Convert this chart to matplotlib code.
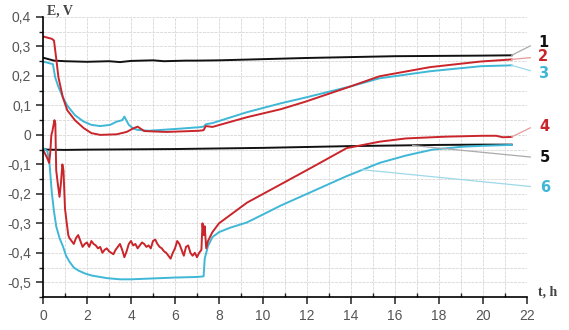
import matplotlib
matplotlib.use("Agg")
import matplotlib.pyplot as plt
from matplotlib.ticker import MultipleLocator

# ---- data ----
t1 = [0, 0.2, 0.5, 1, 1.5, 2, 2.5, 3, 3.5, 4, 4.5, 5, 5.5, 6, 6.5, 7, 8, 9, 10, 12, 14, 16, 18, 20, 21.3]
e1 = [0.262, 0.258, 0.252, 0.250, 0.249, 0.248, 0.249, 0.250, 0.247, 0.251, 0.252, 0.253, 0.250, 0.251, 0.252, 0.252,
      0.253, 0.255, 0.257, 0.261, 0.264, 0.267, 0.268, 0.269, 0.270]

t2 = [0, 0.4, 0.5, 0.6, 0.7, 0.9, 1.1, 1.45, 1.85, 2.2, 2.6, 3.35, 3.8, 4.1, 4.3, 4.6, 5.6, 7.1, 7.3, 7.4,
      7.7, 9.27, 10.8, 11.9, 14, 15.3, 17.6, 19.9, 21.3]
e2 = [0.334, 0.326, 0.320, 0.260, 0.196, 0.128, 0.084, 0.050, 0.023, 0.006, 0.000, 0.002, 0.010, 0.022, 0.028,
      0.013, 0.010, 0.014, 0.016, 0.030, 0.027, 0.060, 0.087, 0.112, 0.165, 0.199, 0.230, 0.249, 0.256]

t3 = [0, 0.3, 0.45, 0.55, 0.7, 0.9, 1.1, 1.45, 1.85, 2.2, 2.6, 3.05, 3.35, 3.6, 3.7, 3.9, 4.1, 4.3, 4.8, 6.0, 7.1,
      7.3, 7.4, 7.7, 9.27, 10.8, 12, 14, 15.3, 17.6, 19.9, 21.3]
e3 = [0.249, 0.243, 0.240, 0.196, 0.163, 0.128, 0.100, 0.067, 0.045, 0.034, 0.030, 0.034, 0.045, 0.050, 0.062,
      0.034, 0.022, 0.017, 0.014, 0.020, 0.026, 0.028, 0.036, 0.040, 0.077, 0.107, 0.128, 0.165, 0.192, 0.216,
      0.233, 0.236]

t4 = [0, 0.1, 0.2, 0.28, 0.33, 0.38, 0.42, 0.47, 0.52, 0.56, 0.6, 0.68, 0.75, 0.82, 0.88, 0.93, 1.0, 1.08, 1.15,
      1.2, 1.3, 1.4, 1.5, 1.6, 1.7, 1.8, 1.9, 2.0, 2.1, 2.2, 2.3, 2.4, 2.5, 2.6, 2.7, 2.8, 2.9, 3.0, 3.1, 3.2,
      3.3, 3.4, 3.5, 3.6, 3.7, 3.8, 3.9, 4.0, 4.1, 4.2, 4.3, 4.4, 4.5, 4.6, 4.7, 4.8, 4.9, 5.0, 5.1, 5.2, 5.3,
      5.4, 5.5, 5.6, 5.7, 5.8, 5.9, 6.0, 6.1, 6.2, 6.3, 6.4, 6.5, 6.6, 6.7, 6.8, 6.9, 7.0, 7.1, 7.2,
      7.25, 7.3, 7.35, 7.42, 7.5, 7.7, 8.0, 9.27, 10.8, 12.3, 13.8, 15.3, 16.5, 18.3, 20.0, 20.6, 20.9, 21.3]
e4 = [-0.050, -0.065, -0.080, -0.095, -0.060, 0.000, 0.010, 0.030, 0.050, 0.040, -0.120, -0.170, -0.210, -0.160,
      -0.100, -0.120, -0.250, -0.300, -0.340,
      -0.350, -0.360, -0.370, -0.350, -0.340, -0.360, -0.380, -0.370, -0.365, -0.380, -0.360, -0.370, -0.375,
      -0.385, -0.380, -0.400, -0.390, -0.385, -0.395, -0.400, -0.405, -0.390, -0.380, -0.370, -0.390, -0.415,
      -0.395, -0.370, -0.360, -0.375, -0.370, -0.385, -0.375, -0.365, -0.370, -0.380, -0.375, -0.385, -0.360,
      -0.355, -0.370, -0.380, -0.385, -0.395, -0.400, -0.410, -0.420, -0.400, -0.385, -0.360, -0.370, -0.390,
      -0.410, -0.380, -0.375, -0.400, -0.410, -0.400, -0.415, -0.400, -0.390,
      -0.300, -0.340, -0.310, -0.385, -0.360, -0.330, -0.300, -0.230, -0.168, -0.107, -0.045, -0.023, -0.012,
      -0.006, -0.003, -0.003, -0.008, -0.007]

t5 = [0, 0.2, 1, 2, 4, 6, 8, 10, 12, 14, 16, 18, 20, 21.3]
e5 = [-0.048, -0.050, -0.051, -0.050, -0.049, -0.048, -0.046, -0.044, -0.041, -0.038, -0.036, -0.034, -0.033, -0.033]

t6 = [0, 0.1, 0.2, 0.3, 0.4, 0.5, 0.6, 0.75, 0.9, 1.05, 1.2, 1.4, 1.6, 1.9, 2.2, 2.9, 3.5, 4, 5, 6, 7, 7.3,
      7.35, 7.5, 7.7, 8, 8.5, 9.27, 10, 10.8, 12.3, 13.8, 15.3, 16.5, 17.7, 19.1, 20, 21.3]
e6 = [-0.045, -0.050, -0.055, -0.100, -0.196, -0.260, -0.310, -0.350, -0.377, -0.410, -0.430, -0.450, -0.460,
      -0.470, -0.477, -0.486, -0.490, -0.490, -0.487, -0.484, -0.482, -0.480, -0.420, -0.377, -0.347, -0.330,
      -0.315, -0.297, -0.270, -0.240, -0.190, -0.140, -0.095, -0.070, -0.050, -0.040, -0.037, -0.034]

labels = ["1", "2", "3", "4", "5", "6"]
y_ticks = [0.4, 0.3, 0.2, 0.1, 0, -0.1, -0.2, -0.3, -0.4, -0.5]
y_tick_labels = ["0,4", "0,3", "0,2", "0,1", "0", "-0,1", "-0,2", "-0,3", "-0,4", "-0,5"]
x_ticks = [0, 2, 4, 6, 8, 10, 12, 14, 16, 18, 20, 22]

RED = "#c9252b"
CYAN = "#3fb7d6"
BLACK = "#111111"

fig = plt.figure(figsize=(5.69, 3.3), dpi=100)
ax = fig.add_axes([43 / 569, 1 - 297 / 330, (527 - 43) / 569, (297 - 17) / 330])

ax.set_xlim(0, 22)
ax.set_ylim(-0.55, 0.4)

# grid
ax.xaxis.set_minor_locator(MultipleLocator(1))
ax.yaxis.set_minor_locator(MultipleLocator(0.05))
ax.grid(which="both", color="#dcdcdc", lw=0.7, ls=(0, (3, 1)))
ax.set_axisbelow(True)

lw = 1.4
ax.plot(t5, e5, color=BLACK, lw=lw)
ax.plot(t1, e1, color=BLACK, lw=lw)
ax.plot(t6, e6, color=CYAN, lw=lw)
ax.plot(t4, e4, color=RED, lw=lw)
ax.plot(t3, e3, color=CYAN, lw=lw)
ax.plot(t2, e2, color=RED, lw=lw)

# leader lines and labels
label_colors = [BLACK, RED, CYAN, RED, BLACK, CYAN]
leader_colors = ["#aaaaaa", "#e59a9a", "#9fd8e8", "#e59a9a", "#aaaaaa", "#9fd8e8"]
starts = [(21.3, e1[-1]), (21.3, e2[-1]), (21.3, e3[-1]), (21.3, e4[-1]), (16.8, -0.036), (14.5, -0.118)]
ends = [(22.15, 0.302), (22.15, 0.262), (22.15, 0.218), (22.15, 0.024), (22.15, -0.075), (22.15, -0.175)]
text_pos = [(22.5, 0.312), (22.5, 0.265), (22.5, 0.209), (22.55, 0.03), (22.6, -0.077), (22.6, -0.178)]
for lab, c, lc, s, e, tp in zip(labels, label_colors, leader_colors, starts, ends, text_pos):
    ax.plot([s[0], e[0]], [s[1], e[1]], color=lc, lw=0.9, clip_on=False)
    ax.text(tp[0], tp[1], lab, color=c, fontsize=10.5, fontweight="bold", ha="left", va="center",
            family="DejaVu Sans", clip_on=False)

# axes styling
for sp in ["top", "right"]:
    ax.spines[sp].set_visible(False)
ax.spines["left"].set_linewidth(1.2)
ax.spines["bottom"].set_linewidth(1.2)
ax.set_yticks(y_ticks)
ax.set_yticklabels(y_tick_labels)
ax.set_xticks(x_ticks)
ax.tick_params(which="major", length=5, width=1.1, color="#222222", labelsize=10, labelcolor="#555555",
               direction="out")
ax.tick_params(which="minor", length=3, width=1.0, color="#222222")
ax.tick_params(axis="x", which="minor", direction="in")
for lbl in ax.get_xticklabels() + ax.get_yticklabels():
    lbl.set_family("Liberation Sans")

fig.text(47 / 569, 1 - 11 / 330, "E, V", fontsize=10, fontweight="bold", family="Liberation Serif",
         color="#444444", ha="left", va="center")
fig.text(538 / 569, 1 - 292 / 330, "t, h", fontsize=10, fontweight="bold", family="Liberation Serif",
         color="#444444", ha="left", va="center")

fig.savefig("out.png", dpi=100)
